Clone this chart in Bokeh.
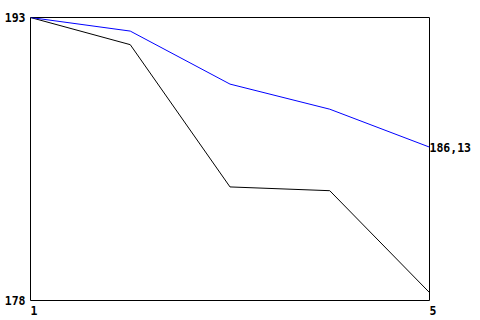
from bokeh.plotting import figure
from bokeh.models import Range1d, FixedTicker, LinearAxis
from bokeh.embed import file_html
from bokeh.resources import INLINE

# data
x_vals = [1, 2, 3, 4, 5]
blue_vals = [193.0, 192.28, 189.47, 188.14, 186.13]
black_vals = [193.0, 191.56, 184.02, 183.82, 178.42]
y_ticks = [178, 193]
x_ticks = [1, 5]
end_value = 186.13
end_label = "186,13"

p = figure(width=480, height=320, output_backend="svg", toolbar_location=None,
           x_range=Range1d(1, 5), y_range=Range1d(178, 193),
           min_border_left=30, min_border_top=17, min_border_right=51, min_border_bottom=18,
           background_fill_color="white", border_fill_color="white")

p.xgrid.visible = False
p.ygrid.visible = False
p.outline_line_color = "black"
p.outline_line_alpha = 1.0
p.outline_line_width = 1

p.line(x_vals, black_vals, line_color="black", line_width=1)
p.line(x_vals, blue_vals, line_color="#0000ff", line_width=1)

right = LinearAxis(y_range_name="default")
p.add_layout(right, "right")

FONT = "DejaVu Sans Mono"
for ax in [p.xaxis[0], p.yaxis[0], right]:
    ax.axis_line_color = None
    ax.major_tick_line_color = None
    ax.minor_tick_line_color = None
    ax.major_tick_out = 0
    ax.major_tick_in = 0
    ax.major_label_text_font = FONT
    ax.major_label_text_font_style = "bold"
    ax.major_label_text_font_size = "11.5px"
    ax.major_label_text_color = "black"

p.yaxis[0].ticker = FixedTicker(ticks=y_ticks)
p.yaxis[0].major_label_standoff = 5
p.xaxis[0].ticker = FixedTicker(ticks=x_ticks)
p.xaxis[0].major_label_standoff = 3
p.xaxis[0].major_label_overrides = {t: "\u00a0" + str(t) for t in x_ticks}
right.ticker = FixedTicker(ticks=[end_value])
right.major_label_overrides = {end_value: end_label}
right.major_label_standoff = 0

open("out.html", "w").write(file_html(p, INLINE))
